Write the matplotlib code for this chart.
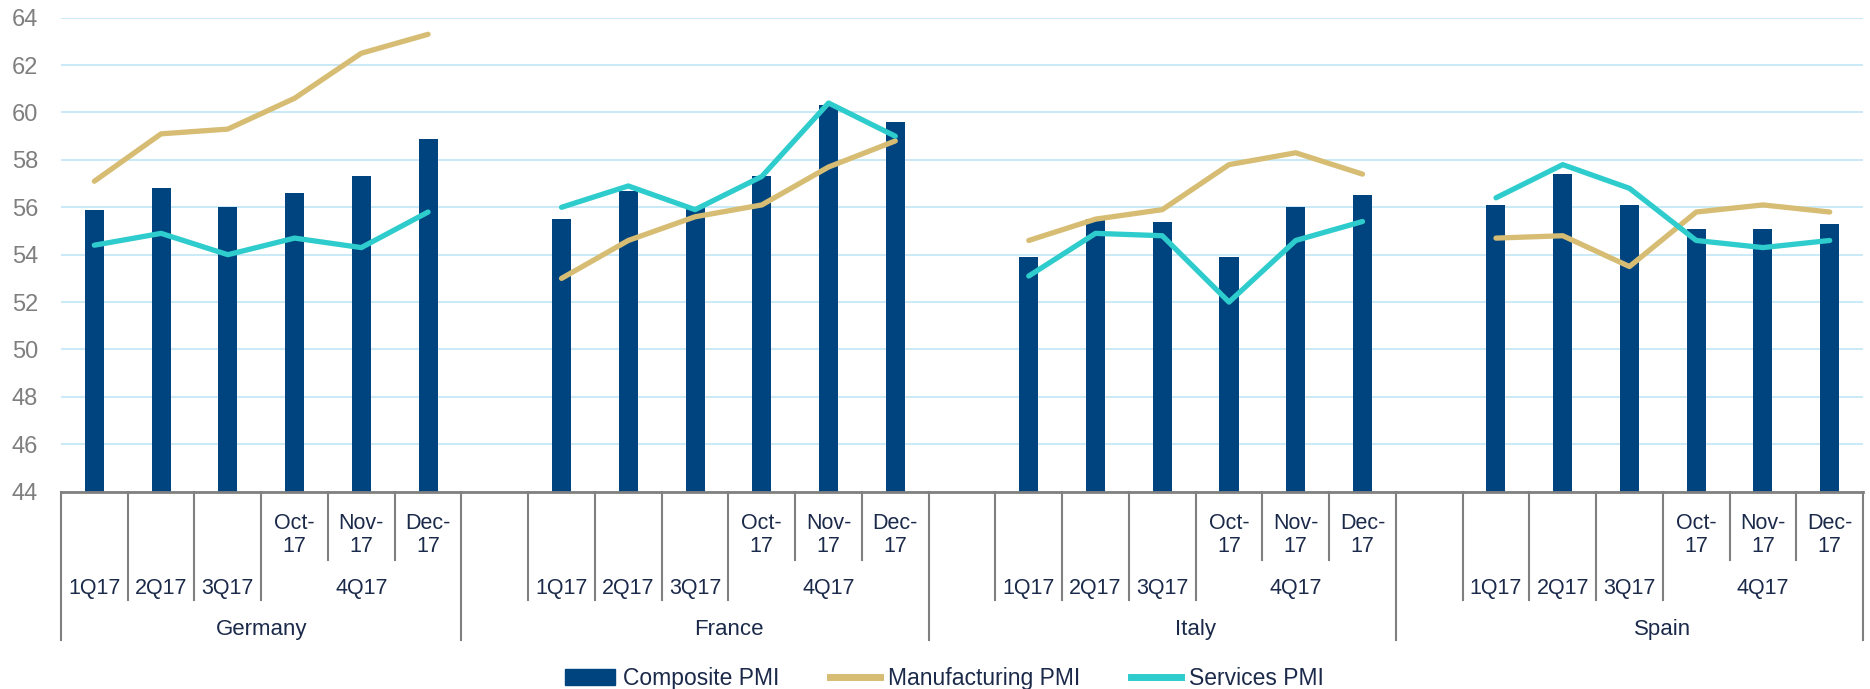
import numpy as np
import matplotlib.pyplot as plt
from matplotlib.patches import Patch
from matplotlib.lines import Line2D

# Data
countries = ['Germany', 'France', 'Italy', 'Spain']
periods = ['1Q17', '2Q17', '3Q17', 'Oct-\n17', 'Nov-\n17', 'Dec-\n17']
quarters = ['1Q17', '2Q17', '3Q17', '4Q17']

composite = {
    'Germany': [55.9, 56.8, 56.0, 56.6, 57.3, 58.9],
    'France':  [55.5, 56.7, 56.0, 57.3, 60.3, 59.6],
    'Italy':   [53.9, 55.5, 55.4, 53.9, 56.0, 56.5],
    'Spain':   [56.1, 57.4, 56.1, 55.1, 55.1, 55.3],
}
manufacturing = {
    'Germany': [57.1, 59.1, 59.3, 60.6, 62.5, 63.3],
    'France':  [53.0, 54.6, 55.6, 56.1, 57.7, 58.8],
    'Italy':   [54.6, 55.5, 55.9, 57.8, 58.3, 57.4],
    'Spain':   [54.7, 54.8, 53.5, 55.8, 56.1, 55.8],
}
services = {
    'Germany': [54.4, 54.9, 54.0, 54.7, 54.3, 55.8],
    'France':  [56.0, 56.9, 55.9, 57.3, 60.4, 59.0],
    'Italy':   [53.1, 54.9, 54.8, 52.0, 54.6, 55.4],
    'Spain':   [56.4, 57.8, 56.8, 54.6, 54.3, 54.6],
}

bar_color = '#00447F'
man_color = '#D6BD73'
serv_color = '#2ECCCC'
label_color = '#1B2A4A'

plt.rcParams['font.family'] = ['Liberation Sans', 'DejaVu Sans']

fig = plt.figure(figsize=(18.70, 6.89), dpi=100)
ax = fig.add_axes([0.0326, 0.2864, 0.9637, 0.6879])

# slot layout: Germany 0-5, blank, France 7-12, blank, Italy 14-19, blank, Spain 21-26
starts = [0, 7, 14, 21]
for c, s in zip(countries, starts):
    x = np.arange(s, s + 6)
    ax.bar(x, np.array(composite[c]) - 44, bottom=44, width=0.285,
           color=bar_color, zorder=2)
    ax.plot(x, manufacturing[c], color=man_color, lw=3.8,
            solid_capstyle='round', solid_joinstyle='round', zorder=3)
    ax.plot(x, services[c], color=serv_color, lw=3.8,
            solid_capstyle='round', solid_joinstyle='round', zorder=4)

ax.set_xlim(-0.5, 26.5)
ax.set_ylim(44, 64)
ax.set_yticks(np.arange(44, 65, 2))
ax.yaxis.grid(True, color='#C4E8F6', lw=1.3, zorder=0)
ax.set_axisbelow(True)
ax.tick_params(axis='y', length=0, pad=16.5, labelsize=17, labelcolor='#7F7F7F')
ax.set_xticks([])
for side in ['left', 'right', 'top']:
    ax.spines[side].set_visible(False)
ax.spines['bottom'].set_color('#808080')
ax.spines['bottom'].set_linewidth(2)

# multi-level category axis below the plot
trans = ax.get_xaxis_transform()
y_month, y_quarter, y_country = -0.144, -0.229, -0.313
sep_kw = dict(color='#808080', lw=1.5, transform=trans, clip_on=False)

for b in [-0.5, 5.5, 12.5, 19.5, 26.5]:
    ax.plot([b, b], [0, y_country], **sep_kw)

for s in starts:
    for b in [s - 0.5, s + 0.5, s + 1.5, s + 2.5]:
        if s == 0 and b == -0.5:
            continue
        ax.plot([b, b], [0, y_quarter], **sep_kw)
    for b in [s + 3.5, s + 4.5]:
        ax.plot([b, b], [0, y_month], **sep_kw)

txt_kw = dict(transform=trans, ha='center', va='center', fontsize=15.5,
              color=label_color)
for c, s in zip(countries, starts):
    for i in range(3, 6):
        ax.text(s + i, -0.092, periods[i], linespacing=1.15, **txt_kw)
    for i, q in enumerate(quarters[:3]):
        ax.text(s + i, -0.205, q, **txt_kw)
    ax.text(s + 4, -0.205, quarters[3], **txt_kw)
    ax.text(s + 2.5, -0.29, c, **{**txt_kw, 'fontsize': 16})

handles = [
    Patch(color=bar_color, label='Composite PMI'),
    Line2D([], [], color=man_color, lw=5, label='Manufacturing PMI'),
    Line2D([], [], color=serv_color, lw=5, label='Services PMI'),
]
fig.legend(handles=handles, loc='center', bbox_to_anchor=(0.505, 0.015),
           ncol=3, frameon=False, handlelength=2.2, handleheight=0.7,
           columnspacing=2.2, handletextpad=0.35,
           prop={'size': 16.5}, labelcolor=label_color)

fig.savefig('out.png', dpi=100)
